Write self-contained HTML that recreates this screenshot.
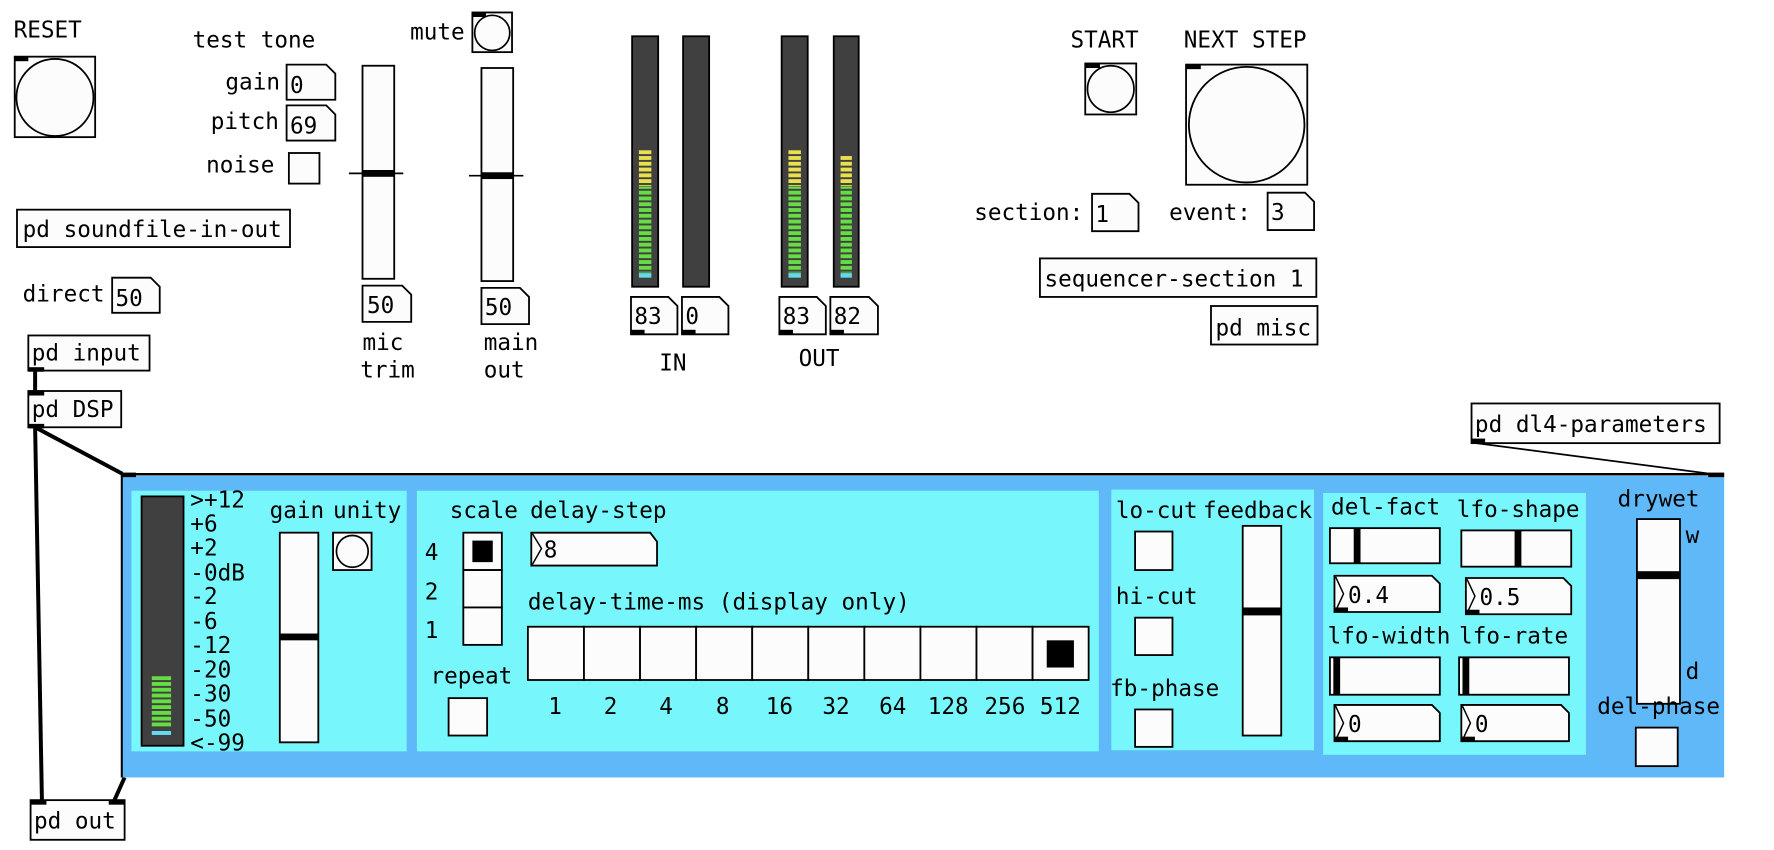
<!DOCTYPE html>
<html><head><meta charset="utf-8"><style>
html,body{margin:0;padding:0;background:#fff;overflow:hidden}
svg{display:block}
text{font-family:"DejaVu Sans Mono","Liberation Mono",monospace;font-size:20px;fill:#000}
.b{fill:#fcfcfc;stroke:#000;stroke-width:1.6}
.k{fill:#000}
.vu{fill:#404040;stroke:#000;stroke-width:1.6}
</style></head><body>
<svg width="1774" height="850" viewBox="0 0 1566 750" preserveAspectRatio="none" xmlns="http://www.w3.org/2000/svg">
<defs>
<pattern id="g" patternUnits="userSpaceOnUse" width="40" height="5.1"><rect x="0" y="0" width="40" height="3.4" fill="#66dd44"/></pattern>
<pattern id="y" patternUnits="userSpaceOnUse" width="40" height="5.1"><rect x="0" y="0" width="40" height="3.4" fill="#e8e050"/></pattern>
</defs>

<!-- top-left -->
<text x="12" y="33">RESET</text>
<rect class="b" x="13" y="50" width="71" height="71"/><circle cx="48.5" cy="86" r="34" fill="none" stroke="#000" stroke-width="1.6"/><rect class="k" x="13" y="50" width="12" height="4"/>
<text x="170" y="42">test tone</text>
<text x="199" y="79">gain</text>
<path class="b" d="M253 57H288L296 65V88H253Z"/><text x="256" y="82">0</text>
<text x="186" y="114">pitch</text>
<path class="b" d="M253 93H288L296 101V124H253Z"/><text x="256" y="118">69</text>
<text x="182" y="152">noise</text>
<rect class="b" x="255" y="135" width="27" height="27"/>
<rect class="b" x="15" y="185" width="241" height="33"/><text x="20" y="209">pd soundfile-in-out</text>
<text x="20" y="266">direct</text>
<path class="b" d="M99 245H133L141 253V276H99Z"/><text x="102" y="270">50</text>

<!-- sliders -->
<rect class="b" x="320" y="58" width="28" height="188"/><rect class="k" x="320" y="150" width="28" height="6"/><line x1="308" y1="153" x2="356" y2="153" stroke="#000" stroke-width="1.5"/>
<path class="b" d="M320 252H355L363 260V284H320Z"/><text x="324" y="276">50</text>
<text x="320" y="309">mic</text><text x="318" y="333">trim</text>
<text x="362" y="35">mute</text>
<rect class="b" x="417" y="11" width="35" height="35"/><circle cx="434.5" cy="29" r="15.5" fill="none" stroke="#000" stroke-width="1.5"/><rect class="k" x="417" y="11" width="12" height="4"/>
<rect class="b" x="425" y="60" width="28" height="188"/><rect class="k" x="425" y="152" width="28" height="6"/><line x1="414" y1="155" x2="462" y2="155" stroke="#000" stroke-width="1.5"/>
<path class="b" d="M425 254H459L467 262V286H425Z"/><text x="428" y="278">50</text>
<text x="427" y="309">main</text><text x="427" y="333">out</text>

<!-- VU meters -->
<rect class="vu" x="558" y="32" width="23" height="221"/>
<rect x="564" y="132" width="11" height="32" fill="url(#y)"/><rect x="564" y="164.5" width="11" height="76" fill="url(#g)"/><rect x="564" y="241" width="11" height="4" fill="#66d8ee"/>
<rect class="vu" x="603" y="32" width="23" height="221"/>
<rect class="vu" x="690" y="32" width="23" height="221"/>
<rect x="696" y="132" width="11" height="32" fill="url(#y)"/><rect x="696" y="164.5" width="11" height="76" fill="url(#g)"/><rect x="696" y="241" width="11" height="4" fill="#66d8ee"/>
<rect class="vu" x="736" y="32" width="22" height="221"/>
<rect x="742" y="137" width="10" height="27" fill="url(#y)"/><rect x="742" y="164.5" width="10" height="76" fill="url(#g)"/><rect x="742" y="241" width="10" height="4" fill="#66d8ee"/>
<path class="b" d="M557 262H590L598 270V295H557Z"/><rect class="k" x="557" y="291" width="12" height="4"/><text x="560" y="286">83</text>
<path class="b" d="M602 262H635L643 270V295H602Z"/><rect class="k" x="602" y="291" width="12" height="4"/><text x="605" y="286">0</text>
<path class="b" d="M688 262H721L729 270V295H688Z"/><rect class="k" x="688" y="291" width="12" height="4"/><text x="691" y="286">83</text>
<path class="b" d="M733 262H767L775 270V295H733Z"/><rect class="k" x="733" y="291" width="12" height="4"/><text x="736" y="286">82</text>
<text x="582" y="327">IN</text>
<text x="705" y="323">OUT</text>

<!-- sequencer -->
<text x="945" y="42">START</text>
<text x="1045" y="42">NEXT STEP</text>
<rect class="b" x="958" y="56" width="45" height="45"/><circle cx="980.5" cy="78.5" r="20.5" fill="none" stroke="#000" stroke-width="1.5"/><rect class="k" x="958" y="56" width="13" height="4"/>
<rect class="b" x="1047" y="57" width="107" height="106"/><circle cx="1100.5" cy="110" r="51" fill="none" stroke="#000" stroke-width="1.6"/><rect class="k" x="1047" y="57" width="13" height="4"/>
<text x="860" y="194">section:</text>
<path class="b" d="M964 171H997L1005 179V204H964Z"/><text x="967" y="196">1</text>
<text x="1032" y="194">event:</text>
<path class="b" d="M1119 170H1152L1160 178V203H1119Z"/><text x="1122" y="194">3</text>
<rect class="b" x="918" y="228" width="244" height="34"/><text x="922" y="253">sequencer-section 1</text>
<rect class="b" x="1069" y="270" width="94" height="34"/><text x="1073" y="296">pd misc</text>

<!-- left chain -->
<rect class="b" x="25" y="296" width="107" height="31"/><text x="28" y="318">pd input</text>
<rect class="k" x="25" y="324" width="14" height="4"/>
<line x1="31" y1="327" x2="31" y2="345" stroke="#000" stroke-width="3.5"/>
<rect class="b" x="25" y="345" width="82" height="32"/><text x="28" y="368">pd DSP</text>
<rect class="k" x="25" y="345" width="14" height="4"/><rect class="k" x="25" y="374" width="14" height="4"/>
<line x1="31" y1="377" x2="37" y2="706" stroke="#000" stroke-width="3.5"/>
<line x1="31" y1="377" x2="108" y2="418" stroke="#000" stroke-width="3.5"/>
<line x1="110" y1="686" x2="101" y2="706" stroke="#000" stroke-width="3.5"/>
<rect class="b" x="27" y="706" width="83" height="35"/><text x="30" y="731">pd out</text>
<rect class="k" x="27" y="706" width="14" height="4"/><rect class="k" x="96" y="706" width="14" height="4"/>

<!-- dl4-parameters -->
<rect class="b" x="1299" y="356" width="219" height="35"/><text x="1302" y="381">pd dl4-parameters</text>
<rect class="k" x="1299" y="387" width="12" height="4"/>
<line x1="1303" y1="391" x2="1517" y2="419" stroke="#000" stroke-width="1.5"/>

<!-- GOP -->
<rect x="107" y="420" width="1415" height="266" fill="#5fb8f7"/>
<line x1="107" y1="418.5" x2="1522" y2="418.5" stroke="#000" stroke-width="2.2"/>
<line x1="107.5" y1="418" x2="107.5" y2="686" stroke="#000" stroke-width="1.8"/>
<rect class="k" x="107" y="417" width="13" height="4"/><rect class="k" x="1508" y="417" width="14" height="4"/>
<rect x="116" y="433" width="243" height="230" fill="#77f7fb"/>
<rect x="368" y="433" width="602" height="230" fill="#77f7fb"/>
<rect x="981" y="432" width="179" height="230" fill="#77f7fb"/>
<rect x="1168" y="435" width="232" height="231" fill="#77f7fb"/>

<!-- panel1 -->
<rect class="vu" x="125" y="438" width="37" height="220"/>
<rect x="134" y="596" width="17" height="46" fill="url(#g)"/><rect x="134" y="645" width="17" height="3.5" fill="#66d8ee"/>
<text x="168" y="448">&gt;+12</text>
<text x="168" y="469">+6</text>
<text x="168" y="490">+2</text>
<text x="168" y="512">-0dB</text>
<text x="168" y="533">-2</text>
<text x="168" y="555">-6</text>
<text x="168" y="576">-12</text>
<text x="168" y="598">-20</text>
<text x="168" y="619">-30</text>
<text x="168" y="641">-50</text>
<text x="168" y="662">&lt;-99</text>
<text x="238" y="457">gain</text>
<text x="294" y="457">unity</text>
<rect class="b" x="247" y="470" width="34" height="185"/><rect class="k" x="247" y="559" width="34" height="6"/>
<rect class="b" x="294" y="470" width="34" height="33"/><circle cx="311" cy="486.5" r="14" fill="none" stroke="#000" stroke-width="1.5"/>

<!-- panel2 -->
<text x="397" y="457">scale</text>
<text x="468" y="457">delay-step</text>
<text x="375" y="494">4</text><text x="375" y="529">2</text><text x="375" y="563">1</text>
<rect class="b" x="409" y="470" width="34" height="33"/><rect class="b" x="409" y="503" width="34" height="33"/><rect class="b" x="409" y="536" width="34" height="33"/>
<rect class="k" x="417" y="477" width="18" height="19"/>
<path class="b" d="M469 470H574L580 478V499H469Z"/><path d="M470 471L478 484L470 498" fill="none" stroke="#000" stroke-width="1.3"/><text x="480" y="492">8</text>
<text x="466" y="538">delay-time-ms (display only)</text>
<rect class="b" x="466" y="553" width="49.5" height="47"/><rect class="b" x="515.5" y="553" width="49.5" height="47"/><rect class="b" x="565" y="553" width="49.5" height="47"/><rect class="b" x="614.5" y="553" width="49.5" height="47"/><rect class="b" x="664" y="553" width="49.5" height="47"/><rect class="b" x="713.5" y="553" width="49.5" height="47"/><rect class="b" x="763" y="553" width="49.5" height="47"/><rect class="b" x="812.5" y="553" width="49.5" height="47"/><rect class="b" x="862" y="553" width="49.5" height="47"/><rect class="b" x="911.5" y="553" width="49.5" height="47"/>
<rect class="k" x="924" y="565" width="24" height="24"/>
<text x="484" y="630">1</text><text x="533" y="630">2</text><text x="582" y="630">4</text><text x="632" y="630">8</text><text x="676" y="630">16</text><text x="726" y="630">32</text><text x="776" y="630">64</text><text x="819" y="630">128</text><text x="869" y="630">256</text><text x="918" y="630">512</text>
<text x="380" y="603">repeat</text>
<rect class="b" x="396" y="616" width="34" height="33"/>

<!-- panel3 -->
<text x="985" y="457">lo-cut</text>
<text x="1062" y="457">feedback</text>
<rect class="b" x="1002" y="469" width="33" height="34"/>
<text x="985" y="533">hi-cut</text>
<rect class="b" x="1002" y="545" width="33" height="33"/>
<text x="980" y="614">fb-phase</text>
<rect class="b" x="1002" y="626" width="33" height="33"/>
<rect class="b" x="1097" y="464" width="34" height="185"/><rect class="k" x="1097" y="536" width="34" height="7"/>

<!-- panel4 -->
<text x="1175" y="454">del-fact</text>
<text x="1286" y="456">lfo-shape</text>
<rect class="b" x="1174" y="466" width="97" height="31"/><rect class="k" x="1195" y="466" width="6" height="31"/>
<rect class="b" x="1290" y="468" width="97" height="32"/><rect class="k" x="1337" y="468" width="6" height="32"/>
<path class="b" d="M1178 508H1264L1271 515V540H1178Z"/><path d="M1179 509L1186 524L1179 539" fill="none" stroke="#000" stroke-width="1.3"/><rect class="k" x="1178" y="536" width="12" height="4"/><text x="1190" y="532">0.4</text>
<path class="b" d="M1294 510H1380L1387 517V542H1294Z"/><path d="M1295 511L1302 526L1295 541" fill="none" stroke="#000" stroke-width="1.3"/><rect class="k" x="1294" y="538" width="12" height="4"/><text x="1306" y="534">0.5</text>
<text x="1172" y="568">lfo-width</text>
<text x="1288" y="568">lfo-rate</text>
<rect class="b" x="1174" y="580" width="97" height="33"/><rect class="k" x="1177" y="580" width="6" height="33"/>
<rect class="b" x="1288" y="580" width="97" height="33"/><rect class="k" x="1291" y="580" width="6" height="33"/>
<path class="b" d="M1178 622H1264L1271 629V654H1178Z"/><path d="M1179 623L1186 638L1179 653" fill="none" stroke="#000" stroke-width="1.3"/><rect class="k" x="1178" y="650" width="12" height="4"/><text x="1190" y="646">0</text>
<path class="b" d="M1290 622H1378L1385 629V654H1290Z"/><path d="M1291 623L1298 638L1291 653" fill="none" stroke="#000" stroke-width="1.3"/><rect class="k" x="1290" y="650" width="12" height="4"/><text x="1302" y="646">0</text>

<!-- drywet -->
<text x="1428" y="447">drywet</text>
<rect class="b" x="1445" y="458" width="38" height="163"/><rect class="k" x="1445" y="504" width="38" height="7"/>
<text x="1488" y="479">w</text>
<text x="1488" y="599">d</text>
<text x="1410" y="630">del-phase</text>
<rect class="b" x="1444" y="642" width="37" height="34"/>
</svg>
</body></html>
